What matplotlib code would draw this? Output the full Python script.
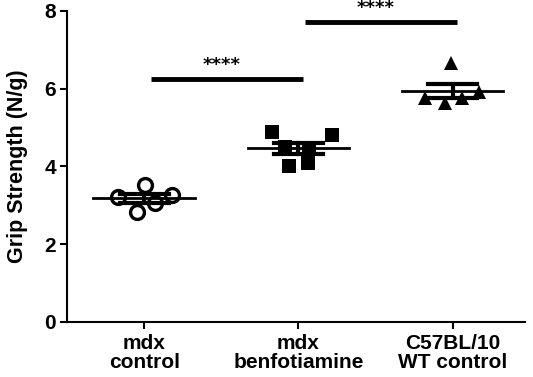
import matplotlib
matplotlib.use('Agg')
import matplotlib.pyplot as plt
import numpy as np

plt.rcParams['font.family'] = ['Liberation Sans', 'DejaVu Sans']
plt.rcParams['font.weight'] = 'bold'

groups = ['mdx\ncontrol', 'mdx\nbenfotiamine', 'C57BL/10\nWT control']
mdx_control = [3.21, 2.83, 3.52, 3.06, 3.26]
mdx_benfo = [4.88, 4.50, 4.01, 4.09, 4.48, 4.81]
wt_control = [5.76, 5.63, 6.66, 5.76, 5.91]
# horizontal scatter of the points inside each group
spread = [[-0.17, -0.045, 0.005, 0.07, 0.18],
          [-0.17, -0.09, -0.06, 0.06, 0.07, 0.22],
          [-0.18, -0.05, -0.01, 0.06, 0.17]]
markers = ['o', 's', '^']

# significance bars: (from group, to group, height)
sig_pairs = [(0, 1, 6.25), (1, 2, 7.72)]
sig_text = ['****', '****']

fig = plt.figure(figsize=(5.33, 3.77), dpi=100)
ax = fig.add_axes([0.126, 0.146, 0.859, 0.825])

data = [mdx_control, mdx_benfo, wt_control]
for i, vals in enumerate(data):
    vals = np.array(vals)
    xs = i + np.array(spread[i])
    if markers[i] == 'o':
        ax.plot(xs, vals, 'o', ms=10, mfc='white', mec='black', mew=2.4,
                zorder=3)
    else:
        ax.plot(xs, vals, markers[i], ms=9.5, color='black', mew=0, zorder=3)
    m = vals.mean()
    sem = vals.std(ddof=1) / np.sqrt(len(vals))
    ax.plot([i - 0.33, i + 0.33], [m, m], color='black', lw=2, zorder=4)
    ax.plot([i, i], [m - sem, m + sem], color='black', lw=3, zorder=4)
    for y in (m - sem, m + sem):
        ax.plot([i - 0.16, i + 0.16], [y, y], color='black', lw=3, zorder=4)

for (a, b, h), t in zip(sig_pairs, sig_text):
    ax.plot([a + 0.045, b + 0.03], [h, h], color='black', lw=3.5,
            solid_capstyle='butt', clip_on=False)
    ax.text((a + b) / 2 + 0.0, h + 0.12, t, ha='center', va='bottom',
            fontsize=13, fontweight='bold', family='DejaVu Sans',
            clip_on=False)

ax.set_xlim(-0.5, 2.47)
ax.set_ylim(0, 8)
ax.set_yticks([0, 2, 4, 6, 8])
ax.set_xticks(range(3))
ax.set_xticklabels(groups, fontsize=15, fontweight='bold', linespacing=1.0)
ax.tick_params(axis='y', labelsize=15, width=1.5, length=5, pad=3)
ax.tick_params(axis='x', width=1.5, length=5, pad=4)
for lab in ax.get_yticklabels():
    lab.set_fontweight('bold')
ax.set_ylabel('Grip Strength (N/g)', fontsize=15.5, fontweight='bold',
              labelpad=12)
ax.spines['top'].set_visible(False)
ax.spines['right'].set_visible(False)
ax.spines['left'].set_linewidth(1.5)
ax.spines['bottom'].set_linewidth(1.5)

plt.savefig('out.png', dpi=100)
